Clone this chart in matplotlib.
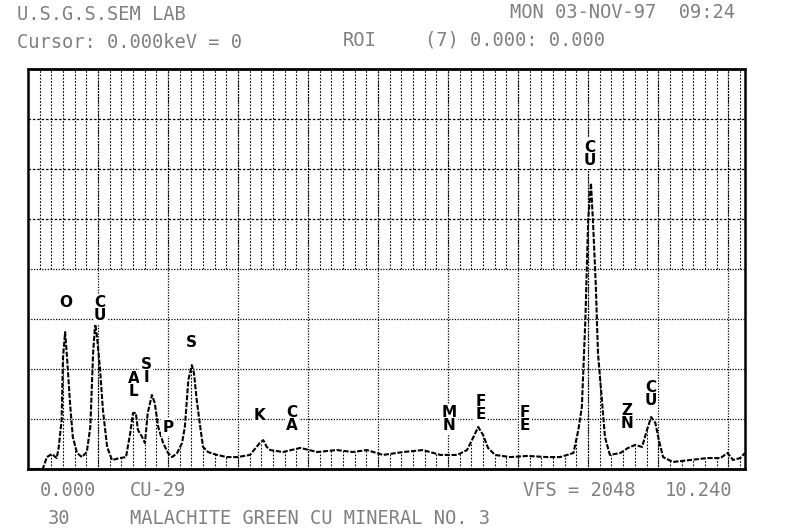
import numpy as np
import matplotlib
matplotlib.use("Agg")
import matplotlib.pyplot as plt

# spectrum: energy (keV) and counts
energy = [0.0, 0.21, 0.27, 0.34, 0.41, 0.44, 0.48, 0.50, 0.53, 0.56, 0.60, 0.64,
          0.70, 0.77, 0.84, 0.89, 0.93, 0.96, 0.99, 1.03, 1.07, 1.13, 1.20, 1.31,
          1.40, 1.46, 1.50, 1.54, 1.57, 1.63, 1.67, 1.71, 1.77, 1.81, 1.86, 1.93,
          2.00, 2.06, 2.13, 2.20, 2.24, 2.29, 2.34, 2.37, 2.41, 2.46, 2.50, 2.57,
          2.70, 2.84, 2.99, 3.17, 3.31, 3.36, 3.41, 3.46, 3.64, 3.89, 4.13, 4.41,
          4.64, 4.84, 5.07, 5.36, 5.64, 5.89, 6.13, 6.27, 6.34, 6.43, 6.50, 6.57,
          6.67, 6.89, 7.13, 7.41, 7.60, 7.79, 7.86, 7.91, 7.96, 8.00, 8.04, 8.07,
          8.11, 8.14, 8.20, 8.24, 8.31, 8.46, 8.57, 8.67, 8.77, 8.84, 8.90, 8.96,
          9.01, 9.07, 9.21, 9.46, 9.70, 9.89, 9.99, 10.07, 10.17, 10.24]
counts = [0, 0, 61, 77, 56, 113, 250, 573, 701, 558, 338, 164,
          82, 61, 87, 215, 594, 748, 660, 507, 302, 113, 46, 56,
          61, 184, 287, 287, 200, 164, 133, 287, 379, 338, 215, 133,
          82, 61, 82, 133, 215, 456, 532, 491, 353, 215, 113, 87,
          72, 61, 61, 72, 133, 148, 113, 97, 87, 108, 87, 97,
          87, 97, 72, 87, 97, 72, 72, 97, 148, 215, 174, 108,
          72, 61, 67, 61, 61, 82, 200, 317, 763, 1275, 1464, 1260,
          932, 594, 338, 164, 72, 82, 108, 123, 113, 200, 266, 236,
          148, 61, 36, 46, 56, 56, 82, 46, 56, 82]

# element labels (stacked letters), keV position and height in counts
label_text = ["O", "CU", "AL", "SI", "P", "S", "K", "CA", "MN", "FE", "FE", "CU", "ZN", "CU"]
label_kev = [0.54, 1.03, 1.51, 1.69, 2.0, 2.34, 3.3, 3.77, 6.01, 6.46, 7.1, 8.03, 8.56, 8.89]
label_cnt = [855, 819, 430, 502, 215, 650, 276, 256, 256, 312, 256, 1613, 266, 384]

full_scale = 2048
e_max = 10.24

fig = plt.figure(figsize=(8, 5.31), dpi=100)
ax = fig.add_axes([28 / 800, 62 / 531, 717 / 800, 400 / 531])
ax.set_xlim(0, e_max)
ax.set_ylim(0, full_scale)
ax.set_xticks([])
ax.set_yticks([])

# fine vertical rulings, wiped out above the trace in the lower half
fine = np.arange(1, 62) / 6
ax.vlines(fine, 0, full_scale, colors="k", lw=0.8, linestyles=(0, (1.5, 1.5)), zorder=1)
ax.fill_between(energy, np.minimum(counts, 1024), 1024, color="white", lw=0, zorder=2)

# main grid
ax.hlines([1280, 1536, 1792], 0, e_max, colors="k", lw=0.9, linestyles=(0, (2, 1.5)), zorder=3)
ax.hlines([256, 512, 768, 1024], 0, e_max, colors="k", lw=0.9, linestyles=(0, (1, 1.2)), zorder=3)
ax.vlines(np.arange(1, 11), 0, full_scale, colors="k", lw=0.9, linestyles=(0, (1, 1.2)), zorder=3)

# spectrum
ax.plot(energy, counts, color="k", lw=1.5, ls=(0, (2.5, 0.8)), zorder=4)

for txt, e, c in zip(label_text, label_kev, label_cnt):
    ax.text(e, c, "\n".join(txt), ha="center", va="center", fontsize=11,
            fontweight="bold", linespacing=0.85, color="k", zorder=5,
            bbox=dict(fc="white", ec="none", pad=1))

for side in ["top", "bottom"]:
    ax.spines[side].set_linewidth(2)
for side in ["left", "right"]:
    ax.spines[side].set_linewidth(1.8)
    ax.spines[side].set_linestyle((0, (1, 1)))


def put(x, y, s):
    fig.text(x / 800, 1 - y / 531, s, ha="left", va="center",
             family="DejaVu Sans Mono", fontsize=13.5, color="#808080")


put(17, 14, "U.S.G.S.SEM LAB")
put(510, 12, "MON 03-NOV-97  09:24")
put(17, 42, "Cursor: 0.000keV = 0")
put(343, 40, "ROI")
put(425, 40, "(7) 0.000: 0.000")
put(40, 491, "0.000")
put(130, 491, "CU-29")
put(523, 490, "VFS = 2048")
put(665, 490, "10.240")
put(48, 519, "30")
put(130, 518, "MALACHITE GREEN CU MINERAL NO. 3")

fig.savefig("out.png", dpi=100)
